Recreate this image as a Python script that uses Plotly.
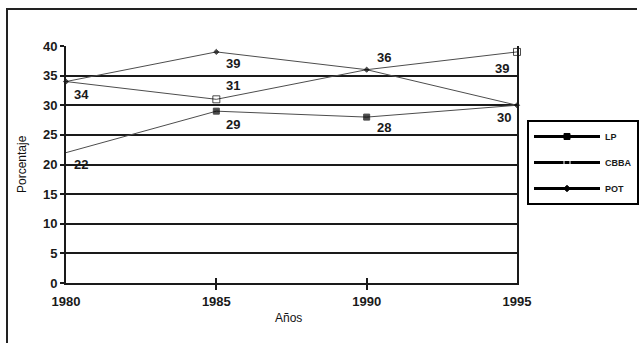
import plotly.graph_objects as go

# Survey years and the share (%) recorded for each city
years = [1980, 1985, 1990, 1995]
lp = [22, 29, 28, 30]
cbba = [34, 31, 36, 39]
pot = [34, 39, 36, 30]

series_names = ["LP", "CBBA", "POT"]
y_ticks = [0, 5, 10, 15, 20, 25, 30, 35, 40]

# Marker sizes per point (points hidden where another series sits on top)
lp_sizes = [0, 6, 6, 0]
cbba_sizes = [0, 7, 0, 7]
pot_sizes = [4, 4, 4, 4]

# Which points carry a value label, and how each label sits around its point
# (series index, point index, xanchor, yanchor, xshift, yshift)
label_specs = [
    (0, 0, "left", "top", 6, -2),
    (0, 1, "left", "top", 8, -4),
    (0, 2, "left", "top", 8, -1),
    (1, 0, "left", "top", 6, -3),
    (1, 1, "left", "bottom", 8, 4),
    (1, 3, "right", "top", -6, -7),
    (2, 1, "left", "top", 8, -2),
    (2, 2, "left", "bottom", 8, 3),
    (2, 3, "right", "top", -4, -3),
]

FONT = "Liberation Sans, Arial, sans-serif"
LINE_GREY = "#4d4d4d"
INK = "#1a1a1a"

fig = go.Figure()

data = [lp, cbba, pot]
symbols = ["square", "square-open", "diamond"]
sizes = [lp_sizes, cbba_sizes, pot_sizes]

# Plotted series (thin grey lines with small markers)
for name, vals, sym, sz in zip(series_names, data, symbols, sizes):
    fig.add_trace(go.Scatter(
        x=years, y=vals, mode="lines+markers", name=name,
        line=dict(color=LINE_GREY, width=1),
        marker=dict(symbol=sym, size=sz, color="black",
                    line=dict(color="black", width=1)),
        showlegend=False, cliponaxis=False,
    ))

# Legend entries drawn with heavy black strokes
for i, (name, sym) in enumerate(zip(series_names, symbols)):
    fig.add_trace(go.Scatter(
        x=[None], y=[None], mode="lines+markers", name=name,
        line=dict(color="black", width=3),
        marker=dict(symbol=sym, size=5 if sym == "diamond" else 6,
                    color="white" if sym == "square-open" else "black",
                    line=dict(color="black", width=1)),
        legendgroup=f"g{i}", showlegend=True,
    ))

# Empty subplot spanning the figure; its axis lines form the outer frame
fig.add_trace(go.Scatter(x=[], y=[], xaxis="x3", yaxis="y3",
                         showlegend=False, hoverinfo="skip"))

# Value labels
for si, pi, xa, ya, xs, ys in label_specs:
    v = data[si][pi]
    fig.add_annotation(
        x=years[pi], y=v, xref="x", yref="y", text=f"<b>{v}</b>", showarrow=False,
        xanchor=xa, yanchor=ya, xshift=xs, yshift=ys,
        font=dict(family=FONT, size=13, color=INK),
    )

# Axis titles
fig.add_annotation(x=0.02226, y=0.53754, xref="paper", yref="paper", text="Porcentaje",
                   textangle=-90, showarrow=False, xanchor="center", yanchor="middle",
                   font=dict(family=FONT, size=12, color="#111111"))
fig.add_annotation(x=0.44674, y=0.07508, xref="paper", yref="paper", text="Años",
                   showarrow=False, xanchor="center", yanchor="middle",
                   font=dict(family=FONT, size=12, color="#111111"))

fig.update_layout(
    width=641, height=347,
    margin=dict(l=8, r=4, t=10, b=4, autoexpand=False),
    paper_bgcolor="white", plot_bgcolor="rgba(0,0,0,0)",
    font=dict(family=FONT, color=INK),
    legend=dict(
        x=0.82512, y=0.66967, xanchor="left", yanchor="top",
        bordercolor="black", borderwidth=2, bgcolor="white",
        font=dict(family=FONT, size=9, color=INK, weight="bold"),
        tracegroupgap=7, itemwidth=66,
    ),
    xaxis=dict(
        domain=[0.09221, 0.80922], anchor="y",
        range=[1980, 1995], tickvals=years,
        showgrid=False, zeroline=False,
        showline=True, linecolor=INK, linewidth=2,
        ticks="inside", ticklen=5, tickwidth=2, tickcolor=INK,
        tickfont=dict(family=FONT, size=13, color=INK, weight="bold"),
        ticklabelstandoff=5,
        minor=dict(tickmode="array", tickvals=years[1:3], ticks="outside",
                   ticklen=5, tickwidth=2, tickcolor=INK, showgrid=False),
    ),
    yaxis=dict(
        domain=[0.18018, 0.89189], anchor="x",
        range=[0, 40], tickvals=y_ticks,
        showgrid=True, gridcolor=INK, gridwidth=2,
        zeroline=False, showline=True, linecolor=INK, linewidth=2, mirror=True,
        ticks="outside", ticklen=4, tickwidth=2, tickcolor=INK,
        tickfont=dict(family=FONT, size=13, color=INK, weight="bold"),
    ),
    xaxis3=dict(
        domain=[0, 1], anchor="y3", side="top", range=[0, 1],
        showline=True, linecolor="#222222", linewidth=2,
        showgrid=False, zeroline=False, showticklabels=False, ticks="",
        fixedrange=True,
    ),
    yaxis3=dict(
        domain=[0, 1], anchor="x3", side="left", range=[0, 1],
        showline=True, linecolor="#222222", linewidth=2,
        showgrid=False, zeroline=False, showticklabels=False, ticks="",
        fixedrange=True,
    ),
)

fig.write_html("out.html")
